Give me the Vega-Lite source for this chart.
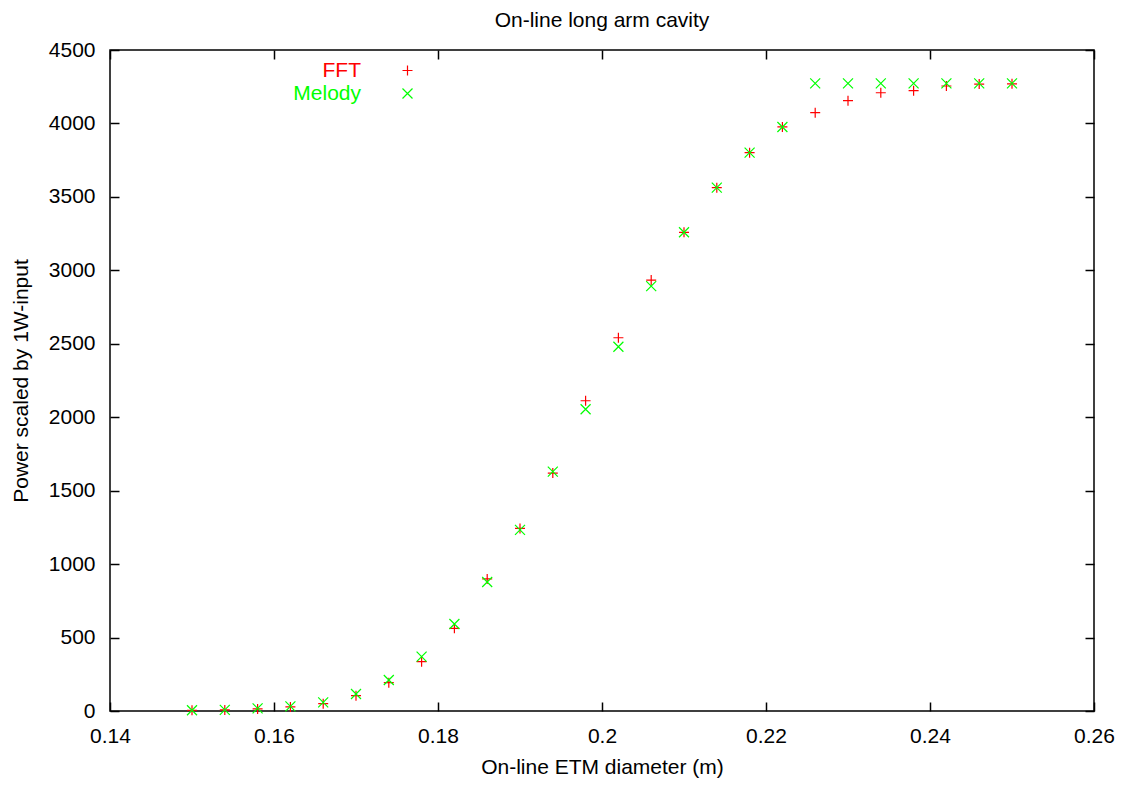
{
  "$schema": "https://vega.github.io/schema/vega-lite/v6.json",
  "autosize": "none",
  "padding": {"left": 110, "top": 50, "right": 27, "bottom": 74},
  "width": 984,
  "height": 661,
  "background": "white",
  "title": {"text": "On-line long arm cavity", "fontSize": 21, "font": "Liberation Sans", "fontWeight": "normal", "color": "#000", "anchor": "middle", "frame": "group", "baseline": "alphabetic", "offset": -9},
  "config": {
    "view": {"stroke": "#000", "strokeWidth": 1.5},
    "axis": {"grid": false, "domain": false, "tickColor": "#000", "tickWidth": 1.5, "tickSize": -9, "labelFont": "Liberation Sans", "labelFontSize": 21, "labelColor": "#000", "titleFont": "Liberation Sans", "titleFontSize": 21, "titleFontWeight": "normal", "titleColor": "#000"}
  },
  "data": {"values": [
    {"series": "FFT", "d": 0.150, "p": 5},
    {"series": "FFT", "d": 0.154, "p": 7},
    {"series": "FFT", "d": 0.158, "p": 14},
    {"series": "FFT", "d": 0.162, "p": 28},
    {"series": "FFT", "d": 0.166, "p": 50},
    {"series": "FFT", "d": 0.170, "p": 104},
    {"series": "FFT", "d": 0.174, "p": 193},
    {"series": "FFT", "d": 0.178, "p": 336},
    {"series": "FFT", "d": 0.182, "p": 563},
    {"series": "FFT", "d": 0.186, "p": 899},
    {"series": "FFT", "d": 0.190, "p": 1243},
    {"series": "FFT", "d": 0.194, "p": 1620},
    {"series": "FFT", "d": 0.198, "p": 2112},
    {"series": "FFT", "d": 0.202, "p": 2541},
    {"series": "FFT", "d": 0.206, "p": 2934},
    {"series": "FFT", "d": 0.210, "p": 3259},
    {"series": "FFT", "d": 0.214, "p": 3563},
    {"series": "FFT", "d": 0.218, "p": 3801},
    {"series": "FFT", "d": 0.222, "p": 3976},
    {"series": "FFT", "d": 0.226, "p": 4073},
    {"series": "FFT", "d": 0.230, "p": 4155},
    {"series": "FFT", "d": 0.234, "p": 4209},
    {"series": "FFT", "d": 0.238, "p": 4223},
    {"series": "FFT", "d": 0.242, "p": 4255},
    {"series": "FFT", "d": 0.246, "p": 4268},
    {"series": "FFT", "d": 0.250, "p": 4270},
    {"series": "Melody", "d": 0.150, "p": 5},
    {"series": "Melody", "d": 0.154, "p": 8},
    {"series": "Melody", "d": 0.158, "p": 18},
    {"series": "Melody", "d": 0.162, "p": 32},
    {"series": "Melody", "d": 0.166, "p": 59},
    {"series": "Melody", "d": 0.170, "p": 116},
    {"series": "Melody", "d": 0.174, "p": 211},
    {"series": "Melody", "d": 0.178, "p": 370},
    {"series": "Melody", "d": 0.182, "p": 592},
    {"series": "Melody", "d": 0.186, "p": 878},
    {"series": "Melody", "d": 0.190, "p": 1233},
    {"series": "Melody", "d": 0.194, "p": 1630},
    {"series": "Melody", "d": 0.198, "p": 2054},
    {"series": "Melody", "d": 0.202, "p": 2480},
    {"series": "Melody", "d": 0.206, "p": 2893},
    {"series": "Melody", "d": 0.210, "p": 3259},
    {"series": "Melody", "d": 0.214, "p": 3563},
    {"series": "Melody", "d": 0.218, "p": 3801},
    {"series": "Melody", "d": 0.222, "p": 3976},
    {"series": "Melody", "d": 0.226, "p": 4273},
    {"series": "Melody", "d": 0.230, "p": 4273},
    {"series": "Melody", "d": 0.234, "p": 4273},
    {"series": "Melody", "d": 0.238, "p": 4273},
    {"series": "Melody", "d": 0.242, "p": 4273},
    {"series": "Melody", "d": 0.246, "p": 4273},
    {"series": "Melody", "d": 0.250, "p": 4273}
  ]},
  "layer": [
    {
      "mark": {"type": "point", "filled": false, "size": 100, "strokeWidth": 1.2, "opacity": 1},
      "encoding": {
        "x": {"field": "d", "type": "quantitative", "scale": {"domain": [0.14, 0.26], "nice": false, "zero": false},
              "axis": {"orient": "bottom", "values": [0.14, 0.16, 0.18, 0.2, 0.22, 0.24, 0.26], "format": ".2~f", "labelPadding": 23, "title": "On-line ETM diameter (m)", "titlePadding": 10, "labelFlush": false}},
        "y": {"field": "p", "type": "quantitative", "scale": {"domain": [0, 4500], "nice": false},
              "axis": {"orient": "left", "values": [0, 500, 1000, 1500, 2000, 2500, 3000, 3500, 4000, 4500], "format": "d", "labelPadding": 24, "title": "Power scaled by 1W-input", "titlePadding": 17}},
        "color": {"field": "series", "type": "nominal", "scale": {"domain": ["FFT", "Melody"], "range": ["#ff0000", "#00ff00"]},
                  "legend": {"orient": "none", "legendX": 287, "legendY": 10, "title": null, "padding": 0, "symbolSize": 100, "symbolStrokeWidth": 1.2, "labelFontSize": 21, "labelFont": "Liberation Sans", "rowPadding": 1, "labelAlign": "right", "labelOffset": -57,
                    "labelColor": {"expr": "datum.label === 'FFT' ? '#ff0000' : '#00ff00'"}}},
        "shape": {"field": "series", "type": "nominal", "scale": {"domain": ["FFT", "Melody"], "range": ["M-1,0L1,0M0,-1L0,1", "M-1,-1L1,1M-1,1L1,-1"]}}
      }
    },
    {
      "mark": {"type": "point", "opacity": 0},
      "encoding": {
        "x": {"field": "d", "type": "quantitative", "axis": {"orient": "top", "values": [0.14, 0.16, 0.18, 0.2, 0.22, 0.24, 0.26], "labels": false, "title": null}},
        "y": {"field": "p", "type": "quantitative", "axis": {"orient": "right", "values": [0, 500, 1000, 1500, 2000, 2500, 3000, 3500, 4000, 4500], "labels": false, "title": null}}
      }
    }
  ],
  "resolve": {"axis": {"x": "independent", "y": "independent"}}
}
